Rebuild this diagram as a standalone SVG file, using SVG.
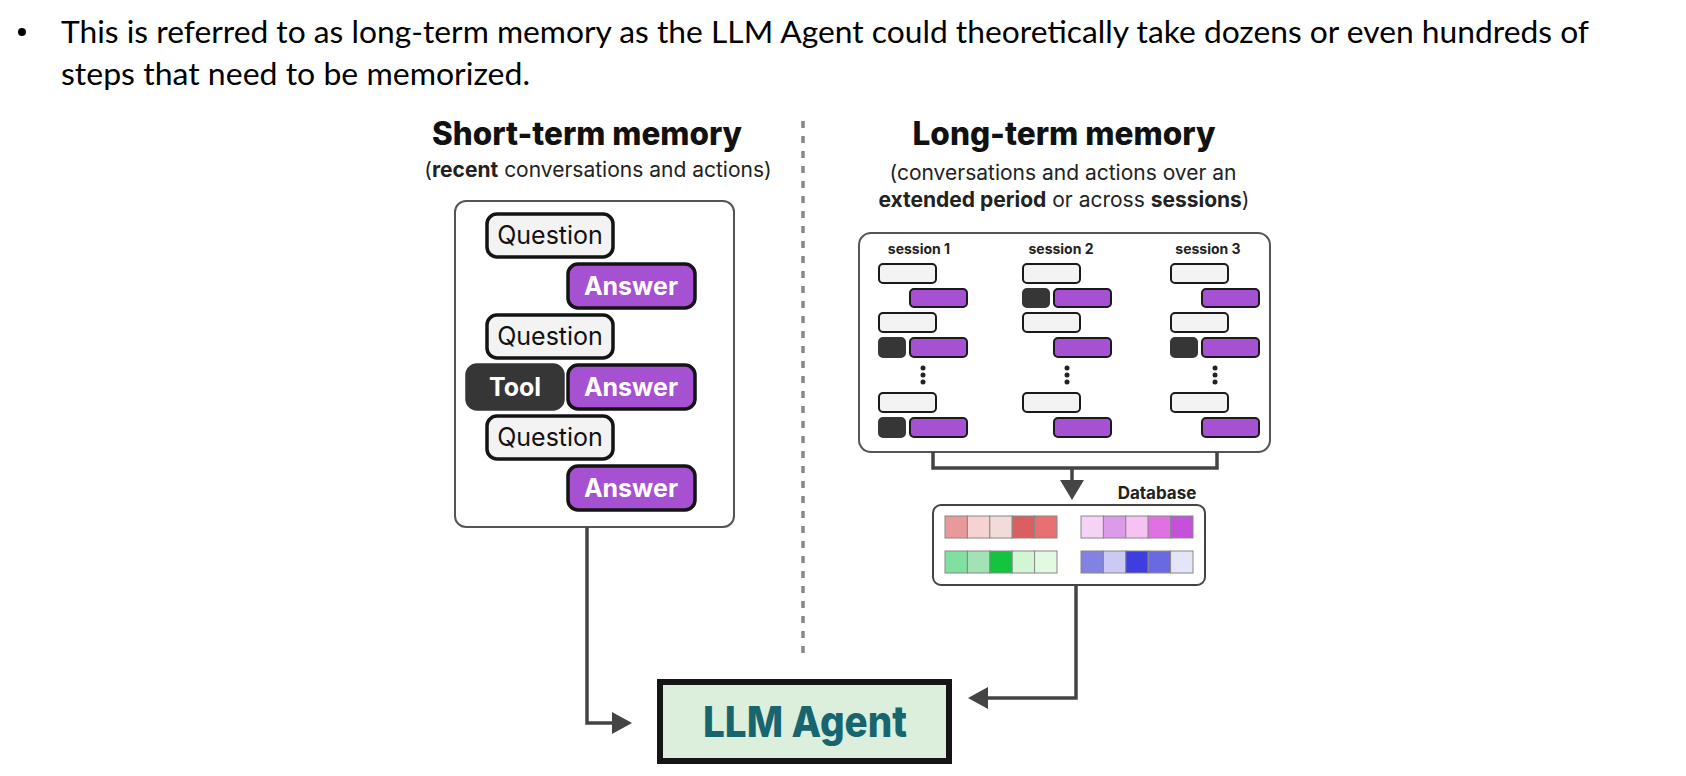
<svg xmlns="http://www.w3.org/2000/svg" width="1686" height="776" viewBox="0 0 1686 776">
<style>
.body{font-family:Lato,"Open Sans","Liberation Sans",sans-serif;font-size:31px;fill:#000}
.title{font-family:Inter,"Liberation Sans",sans-serif;font-weight:800;font-size:32px;fill:#111;text-anchor:middle}
.sub{font-family:Inter,"Liberation Sans",sans-serif;font-size:21px;fill:#222;text-anchor:middle}
.b{font-weight:700}
.q{fill:#f3f3f3;stroke:#141414;stroke-width:3.5}
.a{fill:#a650d2;stroke:#141414;stroke-width:3.5}
.t{fill:#363636;stroke:#363636;stroke-width:3.5}
.qt{font-family:Inter,"Liberation Sans",sans-serif;font-size:25px;fill:#111;text-anchor:middle}
.at{font-family:Inter,"Liberation Sans",sans-serif;font-size:25px;font-weight:700;fill:#fff;text-anchor:middle}
.sq{fill:#f3f3f3;stroke:#1a1a1a;stroke-width:2}
.sa{fill:#a650d2;stroke:#1a1a1a;stroke-width:2}
.st{fill:#363636;stroke:#363636;stroke-width:2}
.sl{font-family:Inter,"Liberation Sans",sans-serif;font-size:14px;font-weight:700;fill:#222;text-anchor:middle}
.frame{fill:#fff;stroke:#555;stroke-width:2}
.cell{stroke:#888;stroke-width:1}
.wire{fill:none;stroke:#444;stroke-width:3.5}
.head{fill:#444}
.dot{fill:#222}
</style>

<g id="bullet">
<circle cx="22" cy="32" r="4" fill="#000"/>
<text class="body" x="61" y="43" textLength="1528" lengthAdjust="spacingAndGlyphs">This is referred to as long-term memory as the LLM Agent could theoretically take dozens or even hundreds of</text>
<text class="body" x="61" y="85" textLength="469" lengthAdjust="spacingAndGlyphs">steps that need to be memorized.</text>
</g>

<line id="divider" x1="803" y1="121" x2="803" y2="657" stroke="#888" stroke-width="3.5" stroke-dasharray="7 8"/>

<g id="short-term-title">
<text class="title" x="587" y="145" textLength="310" lengthAdjust="spacingAndGlyphs">Short-term memory</text>
<text class="sub" x="598" y="177">(<tspan class="b">recent</tspan> conversations and actions)</text>
</g>

<g id="short-term-memory">
<rect x="455" y="201" width="279" height="326" rx="11" class="frame"/>
<g id="q1"><rect x="487" y="214" width="126" height="43" rx="10" class="q"/><text class="qt" x="550" y="244">Question</text></g>
<g id="a1"><rect x="568" y="264" width="127" height="44" rx="10" class="a"/><text class="at" x="631" y="295">Answer</text></g>
<g id="q2"><rect x="487" y="315" width="126" height="43" rx="10" class="q"/><text class="qt" x="550" y="345">Question</text></g>
<g id="tool"><rect x="467" y="365" width="96" height="44" rx="10" class="t"/><text class="at" x="515" y="396">Tool</text></g>
<g id="a2"><rect x="568" y="365" width="127" height="44" rx="10" class="a"/><text class="at" x="631" y="396">Answer</text></g>
<g id="q3"><rect x="487" y="416" width="126" height="43" rx="10" class="q"/><text class="qt" x="550" y="446">Question</text></g>
<g id="a3"><rect x="568" y="466" width="127" height="44" rx="10" class="a"/><text class="at" x="631" y="497">Answer</text></g>
</g>

<g id="long-term-title">
<text class="title" x="1064" y="145" textLength="303" lengthAdjust="spacingAndGlyphs">Long-term memory</text>
<text class="sub" x="1063" y="180">(conversations and actions over an</text>
<text class="sub" x="1064" y="207"><tspan class="b">extended period</tspan> or across <tspan class="b">sessions</tspan>)</text>
</g>

<g id="long-term-memory">
<rect x="859" y="233" width="411" height="219" rx="12" class="frame"/>
<g id="session1">
<text class="sl" x="919" y="254">session 1</text>
<rect x="879" y="264" width="57" height="19" rx="4" class="sq"/>
<rect x="910" y="289" width="57" height="18" rx="4" class="sa"/>
<rect x="879" y="313" width="57" height="19" rx="4" class="sq"/>
<rect x="879" y="338" width="26" height="19" rx="4" class="st"/>
<rect x="910" y="338" width="57" height="19" rx="4" class="sa"/>
<circle cx="923" cy="368" r="2.5" class="dot"/><circle cx="923" cy="375" r="2.5" class="dot"/><circle cx="923" cy="382" r="2.5" class="dot"/>
<rect x="879" y="393" width="57" height="19" rx="4" class="sq"/>
<rect x="879" y="418" width="26" height="19" rx="4" class="st"/>
<rect x="910" y="418" width="57" height="19" rx="4" class="sa"/>
</g>
<g id="session2">
<text class="sl" x="1061" y="254">session 2</text>
<rect x="1023" y="264" width="57" height="19" rx="4" class="sq"/>
<rect x="1023" y="289" width="26" height="18" rx="4" class="st"/>
<rect x="1054" y="289" width="57" height="18" rx="4" class="sa"/>
<rect x="1023" y="313" width="57" height="19" rx="4" class="sq"/>
<rect x="1054" y="338" width="57" height="19" rx="4" class="sa"/>
<circle cx="1067" cy="368" r="2.5" class="dot"/><circle cx="1067" cy="375" r="2.5" class="dot"/><circle cx="1067" cy="382" r="2.5" class="dot"/>
<rect x="1023" y="393" width="57" height="19" rx="4" class="sq"/>
<rect x="1054" y="418" width="57" height="19" rx="4" class="sa"/>
</g>
<g id="session3">
<text class="sl" x="1208" y="254">session 3</text>
<rect x="1171" y="264" width="57" height="19" rx="4" class="sq"/>
<rect x="1202" y="289" width="57" height="18" rx="4" class="sa"/>
<rect x="1171" y="313" width="57" height="19" rx="4" class="sq"/>
<rect x="1171" y="338" width="26" height="19" rx="4" class="st"/>
<rect x="1202" y="338" width="57" height="19" rx="4" class="sa"/>
<circle cx="1215" cy="368" r="2.5" class="dot"/><circle cx="1215" cy="375" r="2.5" class="dot"/><circle cx="1215" cy="382" r="2.5" class="dot"/>
<rect x="1171" y="393" width="57" height="19" rx="4" class="sq"/>
<rect x="1202" y="418" width="57" height="19" rx="4" class="sa"/>
</g>
</g>

<g id="database">
<text class="sl" x="1157" y="499" style="font-size:17px">Database</text>
<rect x="933" y="505" width="272" height="80" rx="8" class="frame" style="stroke:#444"/>
<g class="cell">
<rect x="945" y="516" width="22.4" height="22" fill="#e89a9a"/>
<rect x="967.4" y="516" width="22.4" height="22" fill="#f6d2d2"/>
<rect x="989.8" y="516" width="22.4" height="22" fill="#f1dcd9"/>
<rect x="1012.2" y="516" width="22.4" height="22" fill="#d95f60"/>
<rect x="1034.6" y="516" width="22.4" height="22" fill="#e97072"/>
<rect x="1081" y="516" width="22.4" height="22" fill="#f6d3f6"/>
<rect x="1103.4" y="516" width="22.4" height="22" fill="#dc9be8"/>
<rect x="1125.8" y="516" width="22.4" height="22" fill="#f5c2f2"/>
<rect x="1148.2" y="516" width="22.4" height="22" fill="#e170e2"/>
<rect x="1170.6" y="516" width="22.4" height="22" fill="#c550da"/>
<rect x="945" y="551" width="22.4" height="22" fill="#80e0a0"/>
<rect x="967.4" y="551" width="22.4" height="22" fill="#a3e2b4"/>
<rect x="989.8" y="551" width="22.4" height="22" fill="#12c43e"/>
<rect x="1012.2" y="551" width="22.4" height="22" fill="#d2f5d3"/>
<rect x="1034.6" y="551" width="22.4" height="22" fill="#e3fae2"/>
<rect x="1081" y="551" width="22.4" height="22" fill="#8282e2"/>
<rect x="1103.4" y="551" width="22.4" height="22" fill="#cacaf5"/>
<rect x="1125.8" y="551" width="22.4" height="22" fill="#3e3ee0"/>
<rect x="1148.2" y="551" width="22.4" height="22" fill="#6a6ae0"/>
<rect x="1170.6" y="551" width="22.4" height="22" fill="#e5e5f8"/>
</g>
</g>

<g id="llm-agent">
<rect x="660" y="682" width="289" height="79" fill="#dcefdc" stroke="#151515" stroke-width="6"/>
<text x="805" y="737" text-anchor="middle" textLength="204" lengthAdjust="spacingAndGlyphs" style="font-family:Inter,'Liberation Sans',sans-serif;font-weight:800;font-size:43px;fill:#17656f">LLM Agent</text>
</g>

<g id="connectors">
<path class="wire" d="M933 452 V468 H1217 V452 M1072 468 V482"/>
<polygon class="head" points="1060,480 1084,480 1072,500"/>
<path class="wire" d="M1076 585 V698 H985"/>
<polygon class="head" points="988,687 988,709 968,698"/>
<path class="wire" d="M587 527 V723 H614"/>
<polygon class="head" points="612,712 612,734 632,723"/>
</g>
</svg>
